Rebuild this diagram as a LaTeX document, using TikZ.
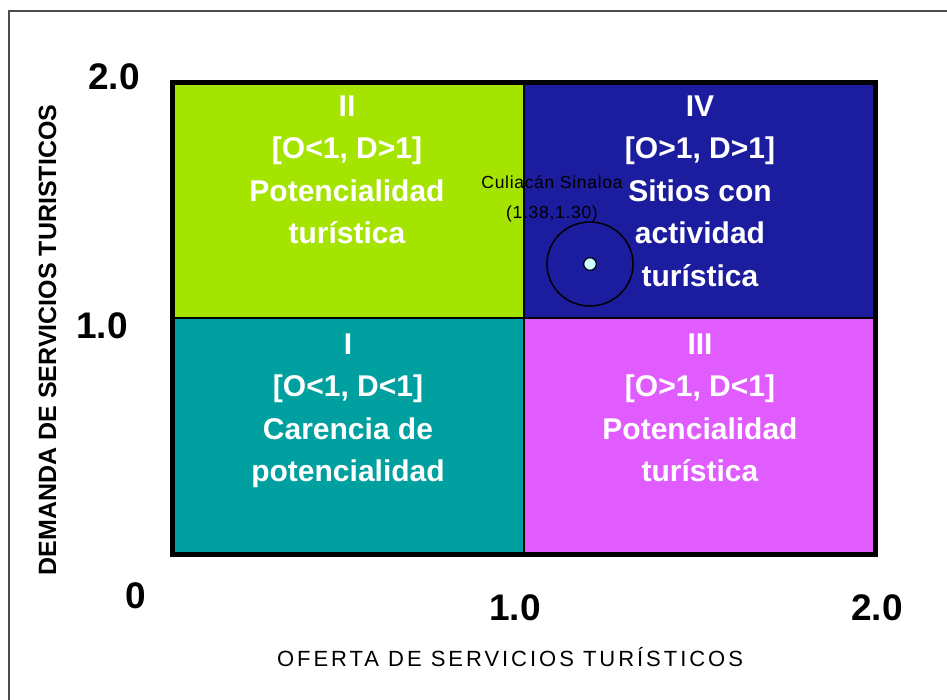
\documentclass[tikz,border=0pt]{standalone}
\usepackage{fontspec}
\setmainfont{Liberation Sans}
\newfontfamily\spacedfont[LetterSpace=13.5]{Liberation Sans}
\newfontfamily\smallspaced[LetterSpace=4]{Liberation Sans}
\definecolor{qgreen}{HTML}{A4E400}
\definecolor{qblue}{HTML}{1C1C9E}
\definecolor{qteal}{HTML}{00A0A0}
\definecolor{qpink}{HTML}{E05CFF}
\definecolor{qdot}{HTML}{CCFFFF}
\begin{document}
\begin{tikzpicture}[x=1pt,y=-1pt,
  quad/.style={font=\bfseries\fontsize{30}{42.5}\selectfont, text=white, align=center, anchor=north, inner sep=0pt},
  tick/.style={font=\bfseries\fontsize{37}{40}\selectfont, inner sep=0pt, anchor=base},
  small/.style={font=\smallspaced\fontsize{17.5}{20}\selectfont, inner sep=0pt, anchor=base}]
\useasboundingbox (0,0) rectangle (947,700);
\fill[white] (0,0) rectangle (947,700);
% outer frame
\draw[line width=1.5, black!70] (9,710) -- (9,11) -- (960,11);
% quadrants
\fill[qgreen] (172,82.5) rectangle (524,318);
\fill[qblue] (524,82.5) rectangle (875.5,318);
\fill[qteal] (172,318) rectangle (524,554.5);
\fill[qpink] (524,318) rectangle (875.5,554.5);
\draw[line width=1.5] (524,82.5) -- (524,554.5);
\draw[line width=1.5] (172,318) -- (875.5,318);
\draw[line width=5] (172,82.5) rectangle (875.5,554.5);
% quadrant texts
\node[quad] (q2) at (347,92) {\rule{0pt}{24pt}II\\{[}O<1, D>1{]}\\Potencialidad\\turística};
\node[quad] (q4) at (700,92) {\rule{0pt}{24pt}IV\\{[}O>1, D>1{]}\\Sitios con\\actividad\\turística};
\node[quad] (q1) at (348,330) {\rule{0pt}{24pt}I\\{[}O<1, D<1{]}\\Carencia de\\potencialidad};
\node[quad] (q3) at (700,330) {\rule{0pt}{24pt}III\\{[}O>1, D<1{]}\\Potencialidad\\turística};
% point
\node[small] (lab1) at (552,189) {Culiacán Sinaloa};
\node[small] (lab2) at (552,219) {(1.38,1.30)};
\draw[line width=1.5] (590,264) ellipse [x radius=43, y radius=42];
\draw[fill=qdot, line width=1.2] (590,264) circle [radius=6.3];
% ticks
\node[tick] (y2) at (114,90) {2.0};
\node[tick] (y1) at (102,338) {1.0};
\node[tick] (y0) at (136,608) {0};
\node[tick] (x1) at (515,620) {1.0};
\node[tick] (x2) at (877,620) {2.0};
% axis titles
\node[inner sep=0pt, anchor=base, font=\spacedfont\fontsize{22}{24}\selectfont] (xt) at (510,666) {OFERTA DE SERVICIOS TURÍSTICOS};
\node[inner sep=0pt, anchor=base, rotate=90, font=\bfseries\fontsize{25}{28}\selectfont] (yt) at (56,340) {DEMANDA DE SERVICIOS TURISTICOS};
\end{tikzpicture}
\end{document}
